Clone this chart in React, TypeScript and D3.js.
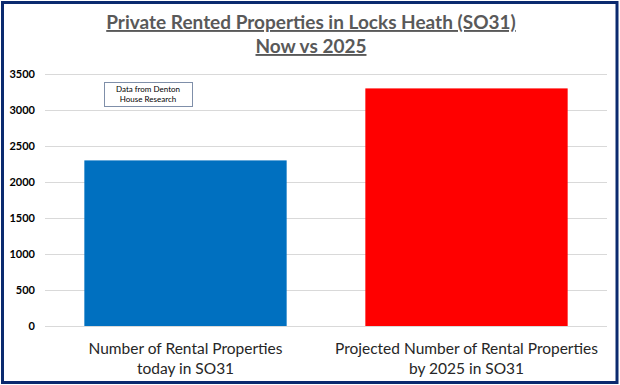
import React, { useEffect, useRef } from 'react';
import * as d3 from 'd3';

// Chart data
const categories = [
  ['Number of Rental Properties', 'today in SO31'],
  ['Projected Number of Rental Properties', 'by 2025 in SO31'],
];
const values = [2300, 3300];
const barColors = ['#0070C0', '#FF0000'];
const yTicks = [0, 500, 1000, 1500, 2000, 2500, 3000, 3500];
const titleLines = ['Private Rented Properties in Locks Heath (SO31)', 'Now vs 2025'];
const noteLines = ['Data from Denton', 'House Research'];

const W = 620;
const H = 385;

const App = () => {
  const svgRef = useRef<SVGSVGElement>(null);

  useEffect(() => {
    document.body.style.margin = '0';
    const svg = d3.select(svgRef.current);
    svg.selectAll('*').remove();

    const font = 'Lato, "Open Sans", sans-serif';
    const margin = { top: 74, right: 13, bottom: 59, left: 45 };
    const width = W - margin.left - margin.right;
    const height = H - margin.top - margin.bottom;

    // background
    svg.append('rect').attr('width', W).attr('height', H).attr('fill', '#fff');

    // title
    titleLines.forEach((t, i) => {
      svg.append('text')
        .attr('x', 311).attr('y', 29 + i * 24)
        .attr('text-anchor', 'middle')
        .attr('font-family', font)
        .attr('font-size', 19)
        .attr('font-weight', 'bold')
        .attr('fill', '#595959')
        .attr('text-decoration', 'underline')
        .text(t);
    });

    const g = svg.append('g').attr('transform', `translate(${margin.left},${margin.top})`);

    const x = d3.scaleBand<number>()
      .domain(values.map((_, i) => i))
      .range([0, width])
      .paddingInner(0.28)
      .paddingOuter(0.14);

    const y = d3.scaleLinear().domain([0, 3500]).range([height, 0]);

    // gridlines
    g.selectAll('line.grid')
      .data(yTicks)
      .enter()
      .append('line')
      .attr('x1', 0).attr('x2', width)
      .attr('y1', d => y(d) + 0.5).attr('y2', d => y(d) + 0.5)
      .attr('stroke', '#D9D9D9')
      .attr('stroke-width', 1);

    // y tick labels
    g.selectAll('text.tick')
      .data(yTicks)
      .enter()
      .append('text')
      .attr('x', -10)
      .attr('y', d => y(d) + 4)
      .attr('text-anchor', 'end')
      .attr('font-family', font)
      .attr('font-size', 11)
      .attr('font-weight', 'bold')
      .attr('fill', '#000')
      .text(d => d);

    // bars
    g.selectAll('rect.bar')
      .data(values)
      .enter()
      .append('rect')
      .attr('x', (_, i) => x(i)!)
      .attr('y', d => y(d))
      .attr('width', x.bandwidth())
      .attr('height', d => height - y(d))
      .attr('fill', (_, i) => barColors[i]);

    // category labels
    categories.forEach((lines, i) => {
      lines.forEach((t, j) => {
        g.append('text')
          .attr('x', x(i)! + x.bandwidth() / 2)
          .attr('y', height + 28 + j * 20)
          .attr('text-anchor', 'middle')
          .attr('font-family', font)
          .attr('font-size', 15.5)
          .attr('fill', '#262626')
          .text(t);
      });
    });

    // note box
    svg.append('rect')
      .attr('x', 104.5).attr('y', 82.5)
      .attr('width', 88).attr('height', 24)
      .attr('fill', '#fff')
      .attr('stroke', '#7F8FA9')
      .attr('stroke-width', 1);
    noteLines.forEach((t, i) => {
      svg.append('text')
        .attr('x', 148).attr('y', 92 + i * 10)
        .attr('text-anchor', 'middle')
        .attr('font-family', font)
        .attr('font-size', 8)
        .attr('fill', '#000')
        .text(t);
    });

    // outer frame
    svg.append('rect')
      .attr('x', 2.5).attr('y', 2.5)
      .attr('width', W - 5.5).attr('height', H - 5)
      .attr('fill', 'none')
      .attr('stroke', '#0B2A6F')
      .attr('stroke-width', 3);
  }, []);

  return (
    <svg ref={svgRef} width={W} height={H} style={{ display: 'block' }} />
  );
};

export default App;
